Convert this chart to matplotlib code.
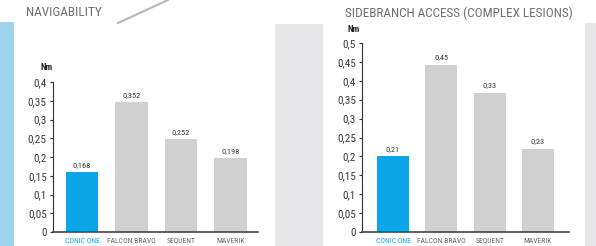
import matplotlib
matplotlib.use("Agg")
import matplotlib.pyplot as plt
from matplotlib.patches import Rectangle
from matplotlib.lines import Line2D

plt.rcParams['font.family'] = ['Roboto Condensed', 'DejaVu Sans']

products = ["CONIC ONE", "FALCON BRAVO", "SEQUENT", "MAVERIK"]

nav_heights = [0.161, 0.347, 0.249, 0.197]
nav_labels = ["0,168", "0,352", "0,252", "0,198"]
nav_ticks = [0, 0.05, 0.1, 0.15, 0.2, 0.25, 0.3, 0.35, 0.4]

side_heights = [0.200, 0.442, 0.367, 0.220]
side_labels = ["0,21", "0,45", "0,33", "0,23"]
side_ticks = [0, 0.05, 0.1, 0.15, 0.2, 0.25, 0.3, 0.35, 0.4, 0.45, 0.5]

W, H = 596, 246
BLUE = "#0aa6e8"
GREY_BAR = "#d0d0d0"
PANEL = "#e6e6e8"
TEXT = "#3a3a3a"


def fmt(v):
    s = f"{v:g}"
    return s.replace(".", ",")


def px_rect(x0, y0, x1, y1):
    # pixel box (top-left origin) -> figure fraction
    return [x0 / W, (H - y1) / H, (x1 - x0) / W, (y1 - y0) / H]


fig = plt.figure(figsize=(W / 100, H / 100), dpi=100)
fig.patch.set_facecolor("white")

# background panels
for (x0, y0, x1, y1, c) in [(0, 22, 14, 246, "#9fd4ef"),
                            (275, 24, 323, 246, PANEL),
                            (585, 23, 596, 246, PANEL)]:
    fig.add_artist(Rectangle((x0 / W, 0), (x1 - x0) / W, (H - y0) / H,
                             transform=fig.transFigure, facecolor=c,
                             edgecolor="none", zorder=0))
fig.add_artist(Line2D([118 / W, 168 / W], [(H - 23) / H, H / H],
                      transform=fig.transFigure, color="#b8b8b8", lw=1.5, zorder=0))


def draw(box, heights, labels, ticks, xlim, title, title_xy, nm_xy):
    ax = fig.add_axes(px_rect(*box))
    ax.set_facecolor("none")
    x = range(len(products))
    colors = [BLUE] + [GREY_BAR] * (len(products) - 1)
    ax.bar(x, heights, width=0.66, color=colors, zorder=2)
    for i, (h, lab) in enumerate(zip(heights, labels)):
        ax.text(i, h + ticks[-1] * 0.025, lab, ha="center", va="bottom",
                fontsize=6, color="#333333")
    ax.set_xlim(*xlim)
    ax.set_ylim(0, ticks[-1])
    ax.set_yticks(ticks)
    ax.set_yticklabels([fmt(t) for t in ticks], fontsize=8, color=TEXT)
    ax.set_xticks(list(x))
    ax.set_xticklabels(products, fontsize=5.5)
    for lbl, c in zip(ax.get_xticklabels(), [BLUE] + ["#666666"] * 3):
        lbl.set_color(c)
    ax.tick_params(axis="x", length=0, pad=4)
    ax.tick_params(axis="y", length=2.5, width=0.8, color="#333333", pad=2)
    for s in ["top", "right"]:
        ax.spines[s].set_visible(False)
    ax.spines["left"].set_color("#333333")
    ax.spines["left"].set_linewidth(0.8)
    ax.spines["bottom"].set_color("#444444")
    ax.spines["bottom"].set_linewidth(1.2)
    fig.text(title_xy[0] / W, 1 - title_xy[1] / H, title, fontsize=9.5,
             color="#6f6f6f", ha="left", va="center")
    fig.text(nm_xy[0] / W, 1 - nm_xy[1] / H, "Nm", fontsize=6.5,
             color="#222222", ha="center", va="center", fontweight="bold")
    return ax


draw((53, 82, 258, 232), nav_heights, nav_labels, nav_ticks, (-0.59, 3.56),
     "NAVIGABILITY", (26, 12), (47, 67))
draw((362, 43, 569, 232), side_heights, side_labels, side_ticks, (-0.64, 3.64),
     "SIDEBRANCH ACCESS (COMPLEX LESIONS)", (345, 13), (354, 29))

fig.savefig("out.png", dpi=100)
